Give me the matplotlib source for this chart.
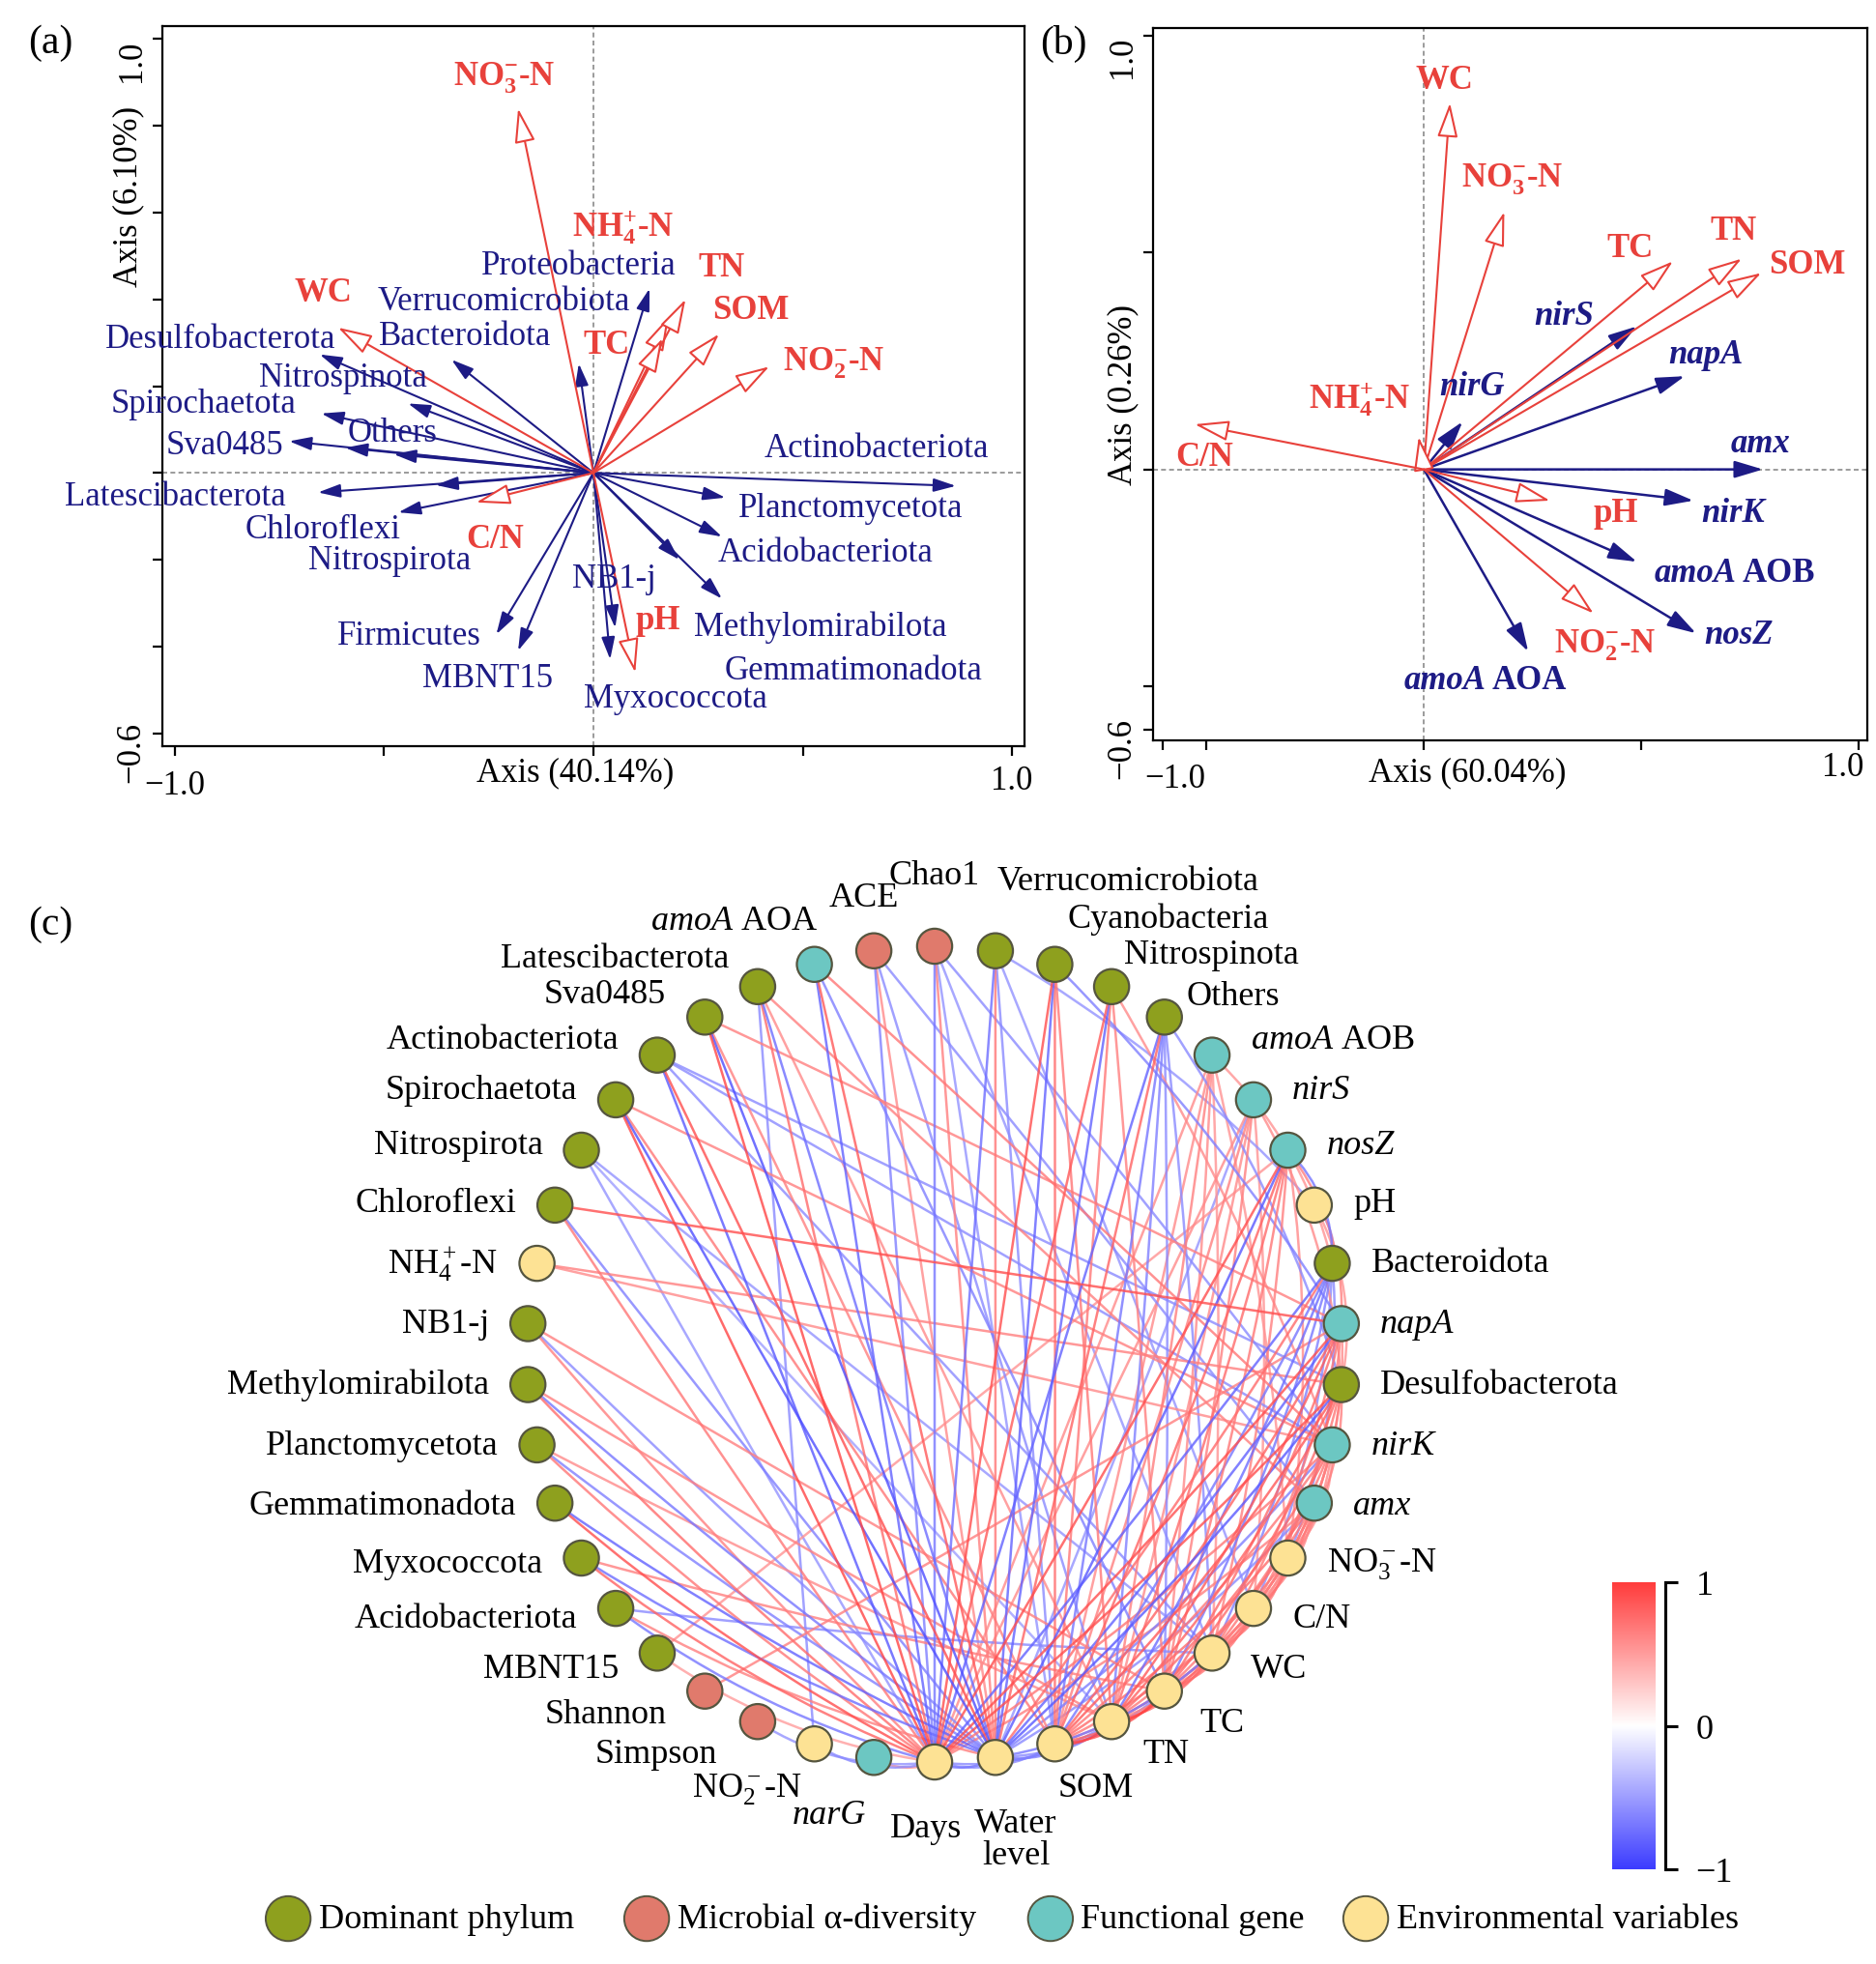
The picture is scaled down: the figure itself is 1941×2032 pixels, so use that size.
import numpy as np
import matplotlib
matplotlib.use("Agg")
import matplotlib.pyplot as plt
from matplotlib.colors import LinearSegmentedColormap, Normalize
from matplotlib.patches import Circle, PathPatch
from matplotlib.path import Path

plt.rcParams["font.family"] = ["Liberation Serif", "DejaVu Serif"]
plt.rcParams["mathtext.fontset"] = "custom"
plt.rcParams["mathtext.rm"] = "Liberation Serif"
plt.rcParams["mathtext.it"] = "Liberation Serif:italic"
plt.rcParams["mathtext.bf"] = "Liberation Serif:bold"

RED = "#e8413b"
NAVY = "#1d1b85"

# ---------------- panel (a): dominant phyla vs environment ----------------
a_env = [r"NO$_\mathbf{3}^\mathbf{-}$-N", r"NH$_\mathbf{4}^\mathbf{+}$-N", "TN", "TC", "SOM",
         r"NO$_\mathbf{2}^\mathbf{-}$-N", "WC", "C/N", "pH"]
a_env_x = [-0.18, 0.18, 0.22, 0.165, 0.30, 0.42, -0.61, -0.28, 0.10]
a_env_y = [0.84, 0.36, 0.40, 0.31, 0.32, 0.245, 0.335, -0.068, -0.46]
a_env_lx = [-0.213, 0.071, 0.307, 0.031, 0.375, 0.575, -0.646, -0.236, 0.154]
a_env_ly = [0.912, 0.569, 0.473, 0.296, 0.377, 0.256, 0.416, -0.153, -0.339]

a_taxa = ["Proteobacteria", "Verrucomicrobiota", "Bacteroidota", "Desulfobacterota",
          "Nitrospinota", "Spirochaetota", "Sva0485", "Others", "Cyanobacteria",
          "Latescibacterota", "Nitrospirota", "Chloroflexi", "Firmicutes", "MBNT15",
          "NB1-j", "Myxococcota", "Methylomirabilota", "Gemmatimonadota",
          "Acidobacteriota", "Planctomycetota", "Actinobacteriota"]
a_taxa_x = [0.134, -0.035, -0.339, -0.654, -0.443, -0.650, -0.727, -0.593, -0.477,
            -0.658, -0.377, -0.466, -0.232, -0.180, 0.052, 0.040, 0.307, 0.205,
            0.307, 0.315, 0.866]
a_taxa_y = [0.425, 0.252, 0.261, 0.273, 0.160, 0.137, 0.073, 0.058, 0.043,
            -0.045, -0.028, -0.091, -0.372, -0.410, -0.357, -0.430, -0.290, -0.200,
            -0.147, -0.057, -0.030]
a_taxa_lab = {"Proteobacteria": (-0.035, 0.479), "Verrucomicrobiota": (-0.213, 0.395),
              "Bacteroidota": (-0.307, 0.316), "Desulfobacterota": (-0.89, 0.31),
              "Nitrospinota": (-0.598, 0.22), "Spirochaetota": (-0.932, 0.16),
              "Others": (-0.48, 0.094), "Sva0485": (-0.882, 0.064),
              "Latescibacterota": (-1.0, -0.053), "Chloroflexi": (-0.646, -0.129),
              "Nitrospirota": (-0.488, -0.2), "NB1-j": (0.05, -0.243),
              "Firmicutes": (-0.441, -0.375), "MBNT15": (-0.252, -0.472),
              "Myxococcota": (0.197, -0.52), "Methylomirabilota": (0.543, -0.354),
              "Gemmatimonadota": (0.622, -0.456), "Acidobacteriota": (0.554, -0.183),
              "Planctomycetota": (0.614, -0.081), "Actinobacteriota": (0.677, 0.058)}

# ---------------- panel (b): functional genes vs environment ----------------
b_env = ["WC", r"NO$_\mathbf{3}^\mathbf{-}$-N", "TC", "TN", "SOM", r"NH$_\mathbf{4}^\mathbf{+}$-N",
         "C/N", "pH", r"NO$_\mathbf{2}^\mathbf{-}$-N"]
b_env_x = [0.06, 0.185, 0.573, 0.731, 0.776, -0.012, -0.527, 0.29, 0.39]
b_env_y = [0.845, 0.594, 0.48, 0.486, 0.453, 0.075, 0.104, -0.072, -0.332]
b_env_lx = [0.048, 0.204, 0.474, 0.712, 0.881, -0.147, -0.504, 0.442, 0.417]
b_env_ly = [0.898, 0.671, 0.51, 0.552, 0.474, 0.164, 0.029, -0.099, -0.404]

b_gene = ["nirS", "napA", "nirG", "amx", "nirK", "amoA AOB", "nosZ", "amoA AOA"]
b_gene_x = [0.49, 0.60, 0.089, 0.78, 0.62, 0.49, 0.626, 0.24]
b_gene_y = [0.33, 0.215, 0.11, 0.0, -0.072, -0.213, -0.378, -0.42]
b_gene_lx = [0.323, 0.649, 0.11, 0.774, 0.712, 0.718, 0.724, 0.142]
b_gene_ly = [0.355, 0.265, 0.191, 0.06, -0.099, -0.239, -0.382, -0.485]

# ---------------- panel (c): correlation network ----------------
net_nodes = ["Chao1", "Verrucomicrobiota", "Cyanobacteria", "Nitrospinota", "Others",
             "amoA AOB", "nirS", "nosZ", "pH", "Bacteroidota", "napA", "Desulfobacterota",
             "nirK", "amx", "NO3-N", "C/N", "WC", "TC", "TN", "SOM", "Water level", "Days",
             "narG", "NO2-N", "Simpson", "Shannon", "MBNT15", "Acidobacteriota",
             "Myxococcota", "Gemmatimonadota", "Planctomycetota", "Methylomirabilota",
             "NB1-j", "NH4-N", "Chloroflexi", "Nitrospirota", "Spirochaetota",
             "Actinobacteriota", "Sva0485", "Latescibacterota", "amoA AOA", "ACE"]
net_group = ["div", "phy", "phy", "phy", "phy", "gene", "gene", "gene", "env", "phy",
             "gene", "phy", "gene", "gene", "env", "env", "env", "env", "env", "env",
             "env", "env", "gene", "env", "div", "div", "phy", "phy", "phy", "phy",
             "phy", "phy", "phy", "env", "phy", "phy", "phy", "phy", "phy", "phy",
             "gene", "div"]

days_links = ["Latescibacterota", "amoA AOA", "ACE", "Chao1", "Verrucomicrobiota",
              "Cyanobacteria", "Nitrospinota", "Others", "amoA AOB", "nirS", "nosZ",
              "Bacteroidota", "napA", "Desulfobacterota", "nirK", "amx", "Sva0485",
              "Actinobacteriota", "Spirochaetota", "Nitrospirota", "Chloroflexi", "NB1-j",
              "Methylomirabilota", "Planctomycetota", "Gemmatimonadota", "Myxococcota",
              "Acidobacteriota", "MBNT15", "narG", "NO2-N", "Water level", "SOM", "TN"]
days_r = [0.75, -0.80, -0.65, -0.70, -0.75, 0.90, 0.85, -0.80, 0.60, 0.60, 0.90,
          -0.80, 0.90, 0.90, 0.70, 0.65, 0.95, -0.85, 0.95, -0.55, 0.70, 0.65,
          0.75, 0.70, 0.90, 0.80, -0.70, 0.50, 0.55, -0.60, -0.70, -0.60, -0.60]

water_links = ["Latescibacterota", "amoA AOA", "ACE", "Chao1", "Verrucomicrobiota",
               "Cyanobacteria", "Nitrospinota", "Others", "nirS", "nosZ", "Bacteroidota",
               "napA", "Desulfobacterota", "nirK", "amx", "Sva0485", "Actinobacteriota",
               "Spirochaetota", "Chloroflexi", "NB1-j", "Methylomirabilota",
               "Planctomycetota", "Gemmatimonadota", "Myxococcota", "Acidobacteriota",
               "SOM", "TN", "TC", "WC"]
water_r = [-0.75, 0.85, 0.60, 0.65, 0.70, -0.80, -0.80, 0.80, -0.55, -0.85, 0.75,
           -0.80, -0.85, -0.65, -0.60, -0.90, 0.90, -0.90, -0.65, -0.60, -0.70,
           -0.65, -0.80, -0.75, 0.65, -0.65, -0.65, -0.60, -0.70]

som_links = ["Bacteroidota", "napA", "Desulfobacterota", "nirK", "amx", "nosZ", "nirS",
             "amoA AOB", "Others", "Nitrospinota", "Cyanobacteria", "Chao1",
             "Verrucomicrobiota", "Spirochaetota", "Sva0485", "TN", "TC", "WC", "C/N", "NO3-N"]
som_r = [-0.70, 0.80, 0.85, 0.70, 0.75, 0.80, 0.65, 0.60, -0.70, 0.70, 0.75, -0.55,
         -0.60, 0.70, 0.65, 0.95, 0.90, 0.80, 0.60, 0.70]

tn_links = ["Bacteroidota", "napA", "Desulfobacterota", "nirK", "amx", "nosZ", "nirS",
            "amoA AOB", "Others", "Cyanobacteria", "ACE", "Latescibacterota",
            "Methylomirabilota", "Planctomycetota", "Nitrospirota", "TC", "WC", "C/N", "NO3-N"]
tn_r = [-0.75, 0.85, 0.80, 0.75, 0.70, 0.75, 0.60, 0.65, -0.65, 0.70, -0.60, 0.60,
        0.65, 0.60, -0.50, 0.95, 0.75, 0.65, 0.65]

tc_links = ["Bacteroidota", "napA", "Desulfobacterota", "nirK", "amx", "nosZ", "amoA AOB",
            "nirS", "Nitrospinota", "Others", "amoA AOA", "NB1-j", "Myxococcota", "WC",
            "C/N", "NO3-N"]
tc_r = [-0.70, 0.75, 0.75, 0.70, 0.65, 0.70, 0.60, 0.65, 0.65, -0.60, -0.65, 0.65,
        0.65, 0.70, 0.70, 0.60]

wc_links = ["Bacteroidota", "napA", "Desulfobacterota", "nirK", "amx", "nosZ", "amoA AOB",
            "Others", "Chao1", "Actinobacteriota", "Nitrospirota", "Acidobacteriota",
            "C/N", "NO3-N"]
wc_r = [-0.65, 0.70, 0.70, 0.65, 0.70, 0.65, 0.55, -0.60, -0.55, -0.60, -0.55, -0.60,
        0.65, 0.70]

cn_links = ["Bacteroidota", "napA", "Desulfobacterota", "nirK", "amx", "nirS",
            "Verrucomicrobiota", "NO3-N"]
cn_r = [-0.60, 0.65, 0.65, 0.60, 0.60, 0.55, -0.55, 0.60]

no3_links = ["Bacteroidota", "napA", "Desulfobacterota", "nirK", "amx", "nosZ", "amoA AOB"]
no3_r = [-0.60, 0.60, 0.65, 0.55, 0.55, 0.60, 0.55]

other_edges = [("Verrucomicrobiota", "pH", -0.55), ("pH", "Bacteroidota", -0.50),
               ("pH", "Desulfobacterota", 0.55), ("NH4-N", "Desulfobacterota", 0.65),
               ("NH4-N", "nirK", 0.60), ("Chloroflexi", "napA", 0.90),
               ("Shannon", "napA", 0.65), ("Simpson", "Days", -0.55),
               ("NO2-N", "Latescibacterota", -0.60), ("Actinobacteriota", "nirK", -0.60),
               ("MBNT15", "nosZ", 0.55), ("Latescibacterota", "amx", 0.65),
               ("amoA AOA", "nirK", 0.70), ("ACE", "amx", -0.60), ("Chao1", "nirK", -0.60),
               ("Sva0485", "napA", 0.65), ("Spirochaetota", "nirK", 0.65),
               ("Actinobacteriota", "Desulfobacterota", -0.60), ("amoA AOB", "Bacteroidota", 0.55),
               ("nirS", "Desulfobacterota", 0.60), ("nosZ", "Bacteroidota", -0.70),
               ("nosZ", "napA", 0.65), ("Cyanobacteria", "napA", -0.65),
               ("Nitrospinota", "nirK", 0.60), ("Others", "Desulfobacterota", -0.60)]

group_colors = {"phy": "#8ea01e", "div": "#e07a6c", "gene": "#6cc7c2", "env": "#fde294"}
legend_groups = ["phy", "div", "gene", "env"]
legend_labels = ["Dominant phylum", "Microbial \u03b1-diversity", "Functional gene",
                 "Environmental variables"]

# ---------------------------------------------------------------------------
W, H = 1941, 2033
fig = plt.figure(figsize=(W / 100, H / 100), dpi=100)
FS = 25


def rda_axes(rect, xlim, ylim, xt, yt, xlabs, xlab, ylab, xlab_pos, ylab_pos):
    ax = fig.add_axes(rect)
    ax.set_xlim(*xlim)
    ax.set_ylim(*ylim)
    ax.axhline(0, color="#8a8a8a", lw=1.2, ls=(0, (3, 2)), zorder=0)
    ax.axvline(0, color="#8a8a8a", lw=1.2, ls=(0, (3, 2)), zorder=0)
    ax.set_xticks(xt)
    ax.set_xticklabels([])
    for x, y, s in xlabs:
        ax.text(x, y, s, transform=ax.get_xaxis_transform(), ha="center", va="center",
                fontsize=FS)
    ax.set_yticks(yt)
    ax.set_yticklabels(["\u22120.6"] + [""] * (len(yt) - 2) + ["1.0"], fontsize=FS,
                       rotation=90)
    ax.get_yticklabels()[-1].set_va("top")
    ax.tick_params(direction="out", length=7, width=1.6, pad=4)
    for s in ax.spines.values():
        s.set_linewidth(1.6)
    ax.text(xlab_pos[0], xlab_pos[1], xlab, transform=ax.transAxes, ha="center",
            va="center", fontsize=FS)
    ax.text(ylab_pos[0], ylab_pos[1], ylab, transform=ax.transAxes, ha="center",
            va="center", fontsize=FS, rotation=90)
    return ax


def arrow(ax, x, y, color, hollow, hl, hw, ms, lw=1.5):
    ax.annotate("", xy=(x, y), xytext=(0, 0),
                arrowprops=dict(arrowstyle=f"-|>,head_length={hl},head_width={hw}",
                                fc="white" if hollow else color, ec=color, lw=lw,
                                shrinkA=0, shrinkB=0, mutation_scale=ms))


# panel (a)
ax_a = rda_axes([168 / W, 1 - 773 / H, 892 / W, 745 / H], (-1.03, 1.03), (-0.63, 1.03),
                [-1, -0.5, 0, 0.5, 1], np.round(np.arange(-0.6, 1.01, 0.2), 1),
                [(-1.0, -0.054, "\u22121.0"), (1.0, -0.048, "1.0")],
                "Axis (40.14%)", "Axis (6.10%)", (0.479, -0.036), (-0.039, 0.764))
for x, y in zip(a_taxa_x, a_taxa_y):
    arrow(ax_a, x, y, NAVY, False, 1.0, 0.3, 14, 1.5)
for x, y in zip(a_env_x, a_env_y):
    arrow(ax_a, x, y, RED, True, 1.0, 0.3, 22, 1.5)
for name, (lx, ly) in a_taxa_lab.items():
    ax_a.text(lx, ly, name, color=NAVY, fontsize=FS, ha="center", va="center")
for name, lx, ly in zip(a_env, a_env_lx, a_env_ly):
    ax_a.text(lx, ly, name, color=RED, fontsize=FS, ha="center", va="center",
              fontweight="bold")

# panel (b)
ax_b = rda_axes([1193 / W, 1 - 767 / H, 739 / W, 737 / H], (-0.623, 1.02), (-0.625, 1.018),
                [-0.6, -0.5, 0, 0.5, 1.0], [-0.6, -0.5, 0, 0.5, 1.0],
                [(-0.572, -0.053, "\u22121.0"), (0.964, -0.037, "1.0")],
                "Axis (60.04%)", "Axis (0.26%)", (0.44, -0.045), (-0.042, 0.487))
for x, y in zip(b_gene_x, b_gene_y):
    arrow(ax_b, x, y, NAVY, False, 1.0, 0.3, 18, 1.8)
for x, y in zip(b_env_x, b_env_y):
    arrow(ax_b, x, y, RED, True, 1.0, 0.3, 22, 1.5)
for name, lx, ly in zip(b_env, b_env_lx, b_env_ly):
    ax_b.text(lx, ly, name, color=RED, fontsize=FS, ha="center", va="center",
              fontweight="bold")
for name, lx, ly in zip(b_gene, b_gene_lx, b_gene_ly):
    if " " in name:
        gene, suffix = name.split()
        ax_b.text(lx, ly, gene, color=NAVY, fontsize=FS, ha="right", va="center",
                  fontweight="bold", fontstyle="italic")
        ax_b.annotate(suffix, (lx, ly), xytext=(5, 0), textcoords="offset points",
                      color=NAVY, fontsize=FS, ha="left", va="center", fontweight="bold")
    else:
        ax_b.text(lx, ly, name, color=NAVY, fontsize=FS, ha="center", va="center",
                  fontweight="bold", fontstyle="italic")

fig.text(52 / W, 1 - 45 / H, "(a)", fontsize=30, ha="center", va="center")
fig.text(1100 / W, 1 - 45 / H, "(b)", fontsize=30, ha="center", va="center")
fig.text(52 / W, 1 - 957 / H, "(c)", fontsize=30, ha="center", va="center")

# panel (c)
R = 422.0
cx, cy = 967.0, 1402.0
ax_c = fig.add_axes([0, 0, 1, (H - 870) / H])
ax_c.set_xlim(-cx / R, (W - cx) / R)
ax_c.set_ylim((cy - H) / R, (cy - 870) / R)
ax_c.axis("off")

n = len(net_nodes)
theta = np.pi / 2 - 2 * np.pi * np.arange(n) / n
pos = {name: np.array([np.cos(t), np.sin(t)]) for name, t in zip(net_nodes, theta)}

cmap = LinearSegmentedColormap.from_list("rwb", ["#3c3cff", "#ffffff", "#ff3c3c"])
norm = Normalize(-1, 1)

edges = []
for hub, links, rs in [("Days", days_links, days_r), ("Water level", water_links, water_r),
                       ("SOM", som_links, som_r), ("TN", tn_links, tn_r),
                       ("TC", tc_links, tc_r), ("WC", wc_links, wc_r),
                       ("C/N", cn_links, cn_r), ("NO3-N", no3_links, no3_r)]:
    edges += [(hub, b, r) for b, r in zip(links, rs)]
edges += other_edges

for a, b, r in sorted(edges, key=lambda e: abs(e[2])):
    p0, p1 = pos[a], pos[b]
    mid = (p0 + p1) / 2
    d = p1 - p0
    L = np.hypot(*d)
    m = np.hypot(*mid)
    nrm = mid / m if m > 1e-6 else np.array([-d[1], d[0]]) / L
    ctrl = mid + 0.3 * L * (1 - L / 2) ** 2 * nrm
    path = Path([p0, ctrl, p1], [Path.MOVETO, Path.CURVE3, Path.CURVE3])
    ax_c.add_patch(PathPatch(path, fc="none", ec=cmap(norm(r)), lw=1.8, alpha=0.8,
                             zorder=1))

display = {"NO3-N": r"NO$_3^-$-N", "NO2-N": r"NO$_2^-$-N", "NH4-N": r"NH$_4^+$-N",
           "amoA AOA": r"$\mathit{amoA}$ AOA", "amoA AOB": r"$\mathit{amoA}$ AOB",
           "Water level": "Water\nlevel"}
italic = {"nirS", "nosZ", "napA", "nirK", "amx", "narG"}
# label placement near the top and bottom of the ring (dx, dy, ha)
cap_labels = {"Chao1": (0.0, 0.175, "center"), "ACE": (-0.025, 0.13, "center"),
              "amoA AOA": (0.01, 0.107, "right"), "Verrucomicrobiota": (0.005, 0.17, "left"),
              "Cyanobacteria": (0.03, 0.113, "left"), "Nitrospinota": (0.03, 0.08, "left"),
              "Latescibacterota": (-0.07, 0.07, "right"), "Others": (0.055, 0.052, "left"),
              "SOM": (0.1, -0.107, "center"), "Water level": (0.05, -0.2, "center"),
              "Days": (-0.02, -0.163, "center"), "narG": (-0.11, -0.14, "center"),
              "NO2-N": (-0.03, -0.11, "right"), "TN": (0.077, -0.08, "left"),
              "TC": (0.086, -0.077, "left"), "Simpson": (-0.1, -0.08, "right")}

for name, grp, t in zip(net_nodes, net_group, theta):
    x, y = pos[name]
    ax_c.add_patch(Circle((x, y), 0.043, fc=group_colors[grp], ec="#55553f", lw=1.6,
                          zorder=3))
    c, s = np.cos(t), np.sin(t)
    if name in cap_labels:
        dx, dy, ha = cap_labels[name]
    else:
        ha = "left" if c > 0 else "right"
        dx, dy = 0.095 * np.sign(c), 0.1 * s ** 3
    ax_c.text(x + dx, y + dy, display.get(name, name), fontsize=26, ha=ha, va="center",
              fontstyle="italic" if name in italic else "normal", linespacing=1.0,
              zorder=4)

# legend
for i, (grp, lab) in enumerate(zip(legend_groups, legend_labels)):
    lx = [-1.585, -0.706, 0.284, 1.057][i]
    ly = -1.384
    ax_c.add_patch(Circle((lx, ly), 0.055, fc=group_colors[grp], ec="#55553f", lw=1.4))
    ax_c.text(lx + 0.075, ly, lab, fontsize=26, ha="left", va="center")

# colour bar
cax = fig.add_axes([1668 / W, 1 - 1935 / H, 45 / W, 297 / H])
grad = np.linspace(-1, 1, 256).reshape(-1, 1)
cax.imshow(grad, aspect="auto", cmap=cmap, norm=norm, origin="lower", extent=[0, 1, -1, 1])
cax.set_xticks([])
for side in ["left", "top", "bottom"]:
    cax.spines[side].set_visible(False)
cax.spines["right"].set_position(("outward", 7))
cax.spines["right"].set_linewidth(2.2)
cax.yaxis.tick_right()
cax.set_yticks([-1, 0, 1])
cax.set_yticklabels(["\u22121", "0", "1"], fontsize=26)
cax.tick_params(axis="y", direction="out", length=9, width=2.2, pad=14)

fig.savefig("out.png", dpi=100)
